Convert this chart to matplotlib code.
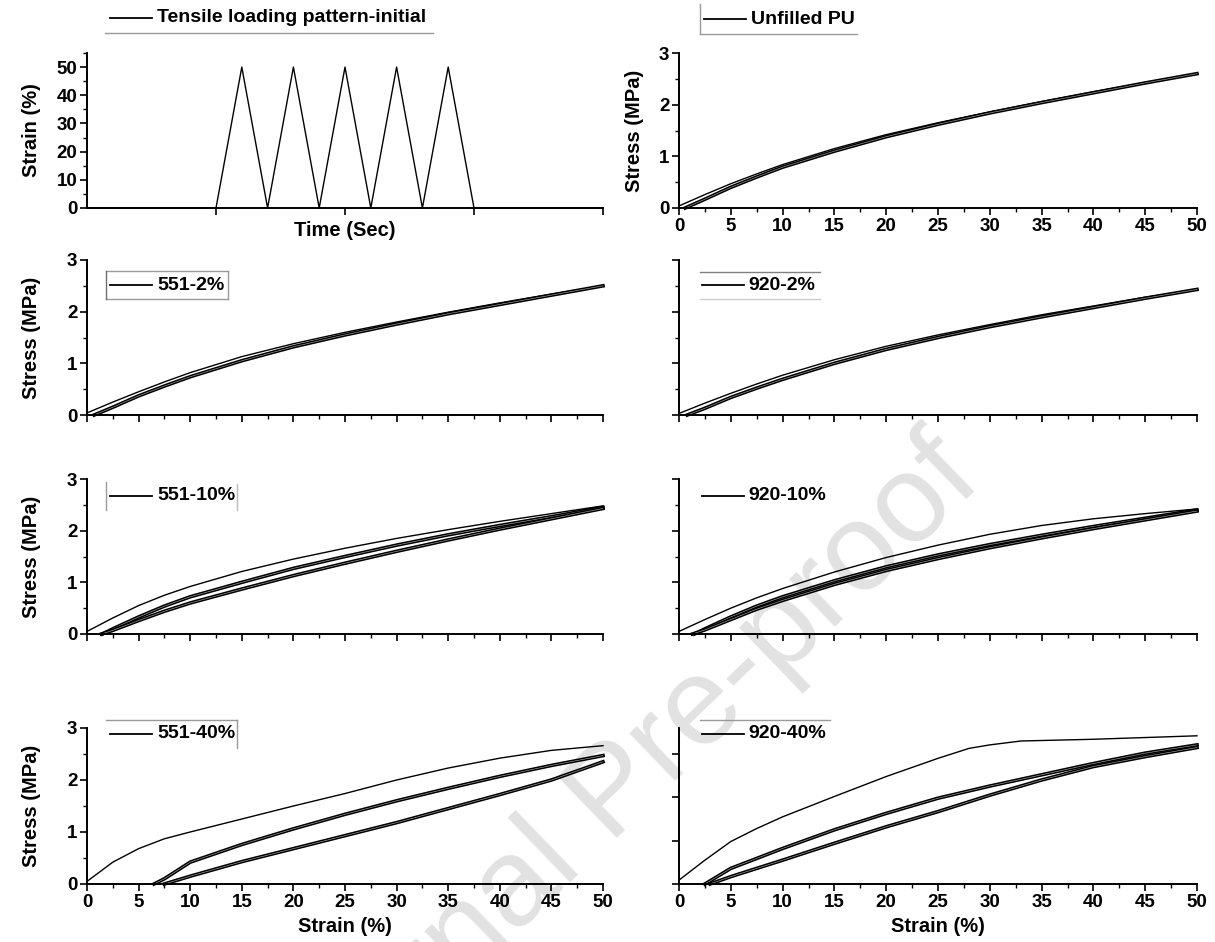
import matplotlib
matplotlib.use('Agg')
import matplotlib.pyplot as plt
from matplotlib.lines import Line2D
from matplotlib.ticker import MultipleLocator

plt.rcParams['font.family'] = ['Liberation Sans', 'DejaVu Sans']
plt.rcParams['font.weight'] = 'bold'
plt.rcParams['axes.labelweight'] = 'bold'

# loading pattern (time in s, strain in %)
pattern_t = [0, 100, 120, 140, 160, 180, 200, 220, 240, 260, 280, 300, 400]
pattern_strain = [0, 0, 50, 0, 50, 0, 50, 0, 50, 0, 50, 0, 0]

# common strain grid
strain = [0, 2.5, 5, 7.5, 10, 15, 20, 25, 30, 35, 40, 45, 50]
strain_tail = [2.5, 5, 7.5, 10, 15, 20, 25, 30, 35, 40, 45, 50]

# Unfilled PU
pu_load = [0.04, 0.26, 0.47, 0.66, 0.84, 1.15, 1.42, 1.65, 1.86, 2.06, 2.25, 2.43, 2.6]
pu_unload_x = [0.6] + strain_tail
pu_unload = [0.0, 0.17, 0.40, 0.60, 0.79, 1.10, 1.38, 1.62, 1.84, 2.04, 2.23, 2.42, 2.6]

# 551-2%
a2_load = [0.04, 0.25, 0.45, 0.64, 0.82, 1.13, 1.38, 1.60, 1.80, 1.99, 2.17, 2.34, 2.5]
a2_unload_x = [0.7] + strain_tail
a2_unload = [0.0, 0.15, 0.37, 0.56, 0.74, 1.05, 1.32, 1.55, 1.76, 1.96, 2.14, 2.32, 2.5]

# 920-2%
b2_load = [0.03, 0.23, 0.42, 0.60, 0.77, 1.07, 1.33, 1.55, 1.75, 1.94, 2.11, 2.28, 2.43]
b2_unload_x = [0.8] + strain_tail
b2_unload = [0.0, 0.13, 0.34, 0.52, 0.69, 1.00, 1.27, 1.50, 1.71, 1.90, 2.08, 2.26, 2.43]

# 551-10%
a10_first = [0.05, 0.31, 0.55, 0.75, 0.92, 1.21, 1.45, 1.66, 1.85, 2.02, 2.18, 2.33, 2.48]
a10_reload_x = [1.5] + strain_tail
a10_reload = [0.0, 0.10, 0.33, 0.54, 0.72, 1.00, 1.27, 1.50, 1.72, 1.92, 2.10, 2.27, 2.45]
a10_unload_x = [1.4] + strain_tail
a10_unload = [0.0, 0.07, 0.26, 0.44, 0.60, 0.87, 1.13, 1.37, 1.60, 1.82, 2.03, 2.23, 2.43]

# 920-10%
b10_first = [0.05, 0.28, 0.50, 0.70, 0.88, 1.20, 1.48, 1.72, 1.93, 2.10, 2.23, 2.33, 2.42]
b10_reload_x = [1.5] + strain_tail
b10_reload = [0.0, 0.10, 0.33, 0.54, 0.72, 1.03, 1.30, 1.53, 1.73, 1.91, 2.08, 2.24, 2.4]
b10_unload_x = [1.3] + strain_tail
b10_unload = [0.0, 0.08, 0.28, 0.48, 0.65, 0.96, 1.23, 1.46, 1.67, 1.86, 2.04, 2.21, 2.38]

# 551-40%
a40_first = [0.05, 0.42, 0.68, 0.87, 1.00, 1.25, 1.50, 1.74, 2.00, 2.23, 2.42, 2.57, 2.66]
a40_reload_x = [6.5, 7.5, 10, 15, 20, 25, 30, 35, 40, 45, 50]
a40_reload = [0.0, 0.10, 0.42, 0.76, 1.06, 1.34, 1.60, 1.84, 2.07, 2.28, 2.47]
a40_unload_x = [7.5, 10, 15, 20, 25, 30, 35, 40, 45, 50]
a40_unload = [0.0, 0.15, 0.43, 0.68, 0.93, 1.18, 1.45, 1.72, 2.00, 2.35]

# 920-40%
b40_first_x = [0, 2.5, 5, 7.5, 10, 15, 20, 25, 28, 30, 33, 40, 45, 50]
b40_first = [0.09, 0.55, 0.98, 1.28, 1.55, 2.02, 2.48, 2.90, 3.13, 3.21, 3.30, 3.34, 3.38, 3.42]
b40_reload_x = [2.5, 5, 10, 15, 20, 25, 30, 35, 40, 45, 50]
b40_reload = [0.0, 0.36, 0.82, 1.25, 1.63, 1.98, 2.26, 2.52, 2.78, 3.02, 3.21]
b40_unload_x = [3, 5, 10, 15, 20, 25, 30, 35, 40, 45, 50]
b40_unload = [0.0, 0.17, 0.55, 0.94, 1.32, 1.67, 2.05, 2.40, 2.71, 2.94, 3.15]

W, H = 1215, 942
fig = plt.figure(figsize=(W / 100, H / 100), dpi=100)

COLS = {'L': (87, 603), 'R': (679, 1197)}
ROWS = [(53, 208), (260, 415), (479, 634), (728, 884)]
LABEL_SIZE = 14.5
TICK_SIZE = 13.5


def make_ax(col, row):
    x0, x1 = COLS[col]
    y0, y1 = ROWS[row]
    ax = fig.add_axes([x0 / W, 1 - y1 / H, (x1 - x0) / W, (y1 - y0) / H])
    ax.set_facecolor('none')
    for s in ['top', 'right']:
        ax.spines[s].set_visible(False)
    for s in ['left', 'bottom']:
        ax.spines[s].set_linewidth(1.4)
    ax.tick_params(which='major', direction='out', length=5, width=1.2, labelsize=TICK_SIZE, pad=2)
    ax.tick_params(which='minor', direction='out', length=3, width=1.0)
    return ax


def stress_ax(col, row, xlabels, ylabels, ytop=3.0, yminor=True):
    ax = make_ax(col, row)
    ax.set_xlim(0, 50)
    ax.set_ylim(0, ytop)
    ax.xaxis.set_major_locator(MultipleLocator(5))
    ax.xaxis.set_minor_locator(MultipleLocator(2.5))
    ax.yaxis.set_major_locator(MultipleLocator(1))
    if yminor:
        ax.yaxis.set_minor_locator(MultipleLocator(0.5))
    if not xlabels:
        ax.tick_params(axis='x', labelbottom=False)
    if ylabels:
        ax.set_ylabel('Stress (MPa)', fontsize=LABEL_SIZE, va='center')
        ax.yaxis.set_label_coords(-0.108 if col == 'L' else -0.085, 0.5)
    else:
        ax.tick_params(axis='y', labelleft=False)
    return ax


def thin(ax, x, y):
    ax.plot(x, y, color='black', lw=1.0, clip_on=False)


def band(ax, x, y):
    ax.plot(x, y, color='black', lw=2.6, clip_on=False)
    ax.plot(x, y, color='white', lw=0.4, alpha=0.7, clip_on=False)


def legend(text, x_line, y, x_text, size=14):
    fig.add_artist(Line2D([x_line / W, (x_line + 42) / W], [1 - y / H, 1 - y / H],
                          color='black', lw=1.3))
    fig.text(x_text / W, 1 - y / H, text, fontsize=size, ha='left', va='center')


def border(x0, y0, x1, y1, color='#9a9a9a'):
    fig.add_artist(Line2D([x0 / W, x1 / W], [1 - y0 / H, 1 - y1 / H], color=color, lw=1.0))


# watermark behind everything
fig.text(615 / W, 1 - 795 / H, 'Journal Pre-proof', fontsize=90, rotation=44,
         color='#e2e2e2', ha='center', va='center', fontweight='normal', zorder=-10)

# loading pattern
ax = make_ax('L', 0)
ax.plot(pattern_t, pattern_strain, color='black', lw=1.0, clip_on=False)
ax.set_xlim(0, 400)
ax.set_ylim(0, 55)
ax.set_xticks([100, 200, 300, 400])
ax.tick_params(axis='x', labelbottom=False)
ax.yaxis.set_major_locator(MultipleLocator(10))
ax.yaxis.set_minor_locator(MultipleLocator(5))
ax.set_ylabel('Strain (%)', fontsize=LABEL_SIZE, va='center')
ax.yaxis.set_label_coords(-0.108, 0.5)
ax.set_xlabel('Time (Sec)', fontsize=LABEL_SIZE, va='center')
ax.xaxis.set_label_coords(0.5, -0.145)

# unfilled PU
ax = stress_ax('R', 0, True, True)
thin(ax, strain, pu_load)
band(ax, pu_unload_x, pu_unload)

# row 2
ax = stress_ax('L', 1, False, True)
thin(ax, strain, a2_load)
band(ax, a2_unload_x, a2_unload)
ax = stress_ax('R', 1, False, False)
thin(ax, strain, b2_load)
band(ax, b2_unload_x, b2_unload)

# row 3
ax = stress_ax('L', 2, False, True)
thin(ax, strain, a10_first)
band(ax, a10_reload_x, a10_reload)
band(ax, a10_unload_x, a10_unload)
ax = stress_ax('R', 2, False, False)
thin(ax, strain, b10_first)
band(ax, b10_reload_x, b10_reload)
band(ax, b10_unload_x, b10_unload)

# row 4
ax = stress_ax('L', 3, True, True)
thin(ax, strain, a40_first)
band(ax, a40_reload_x, a40_reload)
band(ax, a40_unload_x, a40_unload)
ax.set_xlabel('Strain (%)', fontsize=LABEL_SIZE, va='center')
ax.xaxis.set_label_coords(0.5, -0.27)
ax = stress_ax('R', 3, True, False, ytop=3.6, yminor=False)
thin(ax, b40_first_x, b40_first)
band(ax, b40_reload_x, b40_reload)
band(ax, b40_unload_x, b40_unload)
ax.set_xlabel('Strain (%)', fontsize=LABEL_SIZE, va='center')
ax.xaxis.set_label_coords(0.5, -0.27)

# origin-style legends
legend('Tensile loading pattern-initial', 110, 18, 157)
border(105, 33, 433, 33)
legend('Unfilled PU', 704, 19, 751)
border(700, 4, 700, 34)
border(700, 34, 857, 34)
legend('551-2%', 110, 285, 157)
border(106, 271, 228, 271)
border(106, 299, 228, 299)
border(106, 271, 106, 299, color='#707070')
border(228, 271, 228, 299)
legend('920-2%', 702, 285, 748)
border(700, 272, 820, 272, color='#808080')
border(700, 299, 820, 299, color='#cccccc')
legend('551-10%', 110, 496, 157)
border(106, 482, 106, 510)
border(237, 484, 237, 510, color='#bbbbbb')
legend('920-10%', 702, 496, 748)
legend('551-40%', 110, 734, 157)
border(106, 720, 237, 720)
border(237, 720, 237, 748)
legend('920-40%', 702, 734, 748)
border(700, 720, 830, 720)

fig.savefig('out.png', dpi=100)
